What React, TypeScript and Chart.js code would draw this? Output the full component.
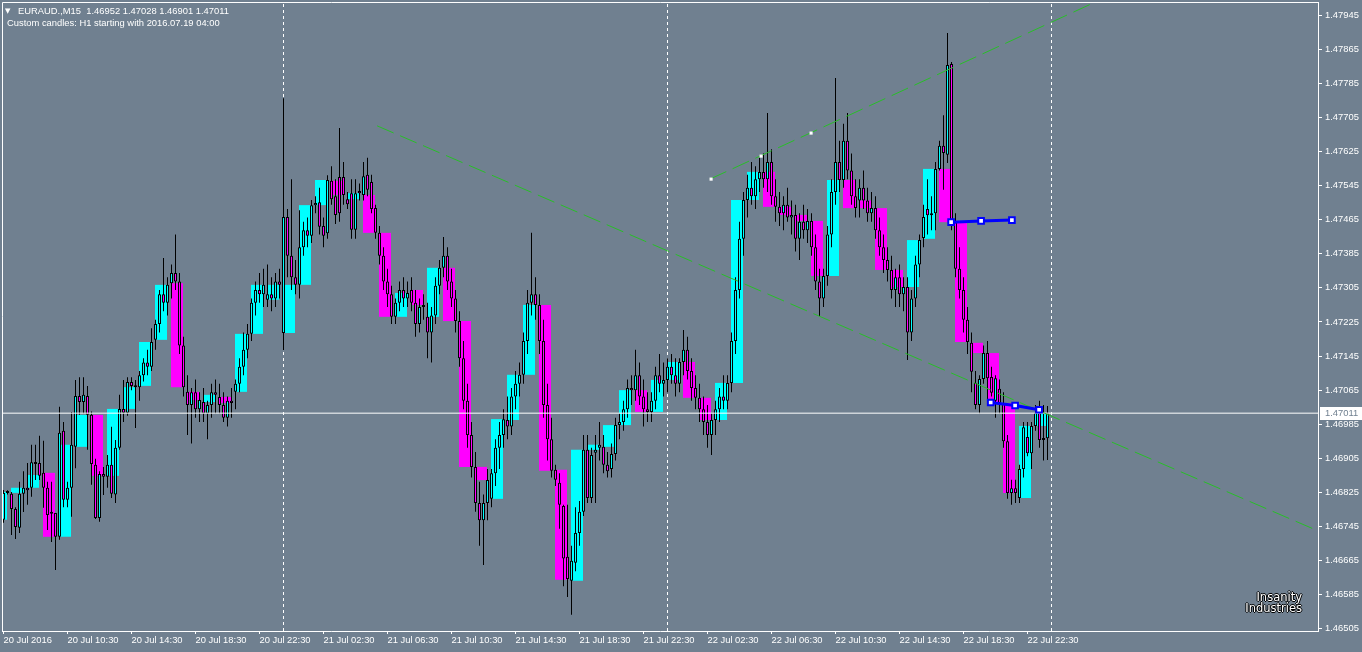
import React, { useEffect, useRef } from "react";
import { Chart, registerables } from "chart.js";

Chart.register(...registerables);

const BG = "#708090";
const BULL = "#00FFFF";
const BEAR = "#FF00FF";
const GREEN = "rgb(40,190,40)";
const BLUE = "#0000FF";
const FONT = "'Liberation Sans', Arial, sans-serif";

const HEADER_SYMBOL = "EURAUD.,M15  1.46952 1.47028 1.46901 1.47011";
const HEADER_INFO = "Custom candles: H1 starting with 2016.07.19 04:00";
const LOGO_LINES = ["Insanity", "Industries"];

// bar index 0 = 20 Jul 06:30 (M15)
const X_TICK_BARS = [0, 16, 32, 48, 64, 80, 96, 112, 128, 144, 160, 176, 192, 208, 224, 240, 256];
const X_TICK_LABELS = [
  "20 Jul 2016", "20 Jul 10:30", "20 Jul 14:30", "20 Jul 18:30", "20 Jul 22:30",
  "21 Jul 02:30", "21 Jul 06:30", "21 Jul 10:30", "21 Jul 14:30", "21 Jul 18:30", "21 Jul 22:30",
  "22 Jul 02:30", "22 Jul 06:30", "22 Jul 10:30", "22 Jul 14:30", "22 Jul 18:30", "22 Jul 22:30",
];
const Y_TICKS = [
  1.46505, 1.46585, 1.46665, 1.46745, 1.46825, 1.46905, 1.46985, 1.47065, 1.47145, 1.47225,
  1.47305, 1.47385, 1.47465, 1.47545, 1.47625, 1.47705, 1.47785, 1.47865, 1.47945,
];
const Y_MIN = 1.465;
const Y_MAX = 1.479755;
const X_MIN = -0.375;
const X_MAX = 328.625;
const CURRENT_PRICE = 1.47011;
const DAY_SEPARATOR_BARS = [70, 166, 262];

// M15 candles: [open, high, low, close]
const M15_BARS: number[][] = [
  [1.46761, 1.46831, 1.46754, 1.46824], [1.46824, 1.46830, 1.46820, 1.46826],
  [1.46822, 1.46826, 1.46725, 1.46786], [1.46786, 1.46790, 1.46716, 1.46744],
  [1.46742, 1.46850, 1.46730, 1.46822], [1.46822, 1.46875, 1.46779, 1.46836],
  [1.46836, 1.46894, 1.46796, 1.46830], [1.46836, 1.46937, 1.46815, 1.46896],
  [1.46896, 1.46937, 1.46854, 1.46892], [1.46894, 1.46958, 1.46854, 1.46864],
  [1.46871, 1.46946, 1.46789, 1.46836], [1.46836, 1.46850, 1.46737, 1.46772],
  [1.46777, 1.46850, 1.46709, 1.46775], [1.46777, 1.46777, 1.46643, 1.46721],
  [1.46721, 1.47026, 1.46714, 1.46965], [1.46970, 1.46990, 1.46790, 1.46808],
  [1.46808, 1.46850, 1.46790, 1.46836], [1.46836, 1.47014, 1.46768, 1.46937],
  [1.46932, 1.47089, 1.46882, 1.47051], [1.47051, 1.47095, 1.47007, 1.47037],
  [1.47037, 1.47095, 1.47010, 1.47054], [1.47051, 1.47075, 1.46925, 1.47007],
  [1.47007, 1.47015, 1.46843, 1.46892], [1.46890, 1.46904, 1.46763, 1.46765],
  [1.46765, 1.46875, 1.46756, 1.46868], [1.46868, 1.46885, 1.46819, 1.46862],
  [1.46862, 1.46913, 1.46836, 1.46890], [1.46890, 1.46979, 1.46812, 1.46822],
  [1.46820, 1.46948, 1.46800, 1.46930], [1.46930, 1.47054, 1.46925, 1.47021],
  [1.47021, 1.47089, 1.46990, 1.47012], [1.47012, 1.47095, 1.47005, 1.47084],
  [1.47084, 1.47095, 1.47065, 1.47075], [1.47075, 1.47089, 1.46976, 1.47072],
  [1.47072, 1.47110, 1.47040, 1.47100], [1.47100, 1.47140, 1.47085, 1.47130],
  [1.47130, 1.47160, 1.47100, 1.47120], [1.47120, 1.47210, 1.47110, 1.47178],
  [1.47183, 1.47230, 1.47160, 1.47220], [1.47220, 1.47300, 1.47200, 1.47290],
  [1.47290, 1.47375, 1.47250, 1.47270], [1.47270, 1.47330, 1.47240, 1.47312],
  [1.47316, 1.47360, 1.47280, 1.47340], [1.47340, 1.47430, 1.47300, 1.47320],
  [1.47320, 1.47340, 1.47150, 1.47170], [1.47170, 1.47190, 1.47050, 1.47072],
  [1.47061, 1.47100, 1.46960, 1.47030], [1.47030, 1.47070, 1.46940, 1.47060],
  [1.47060, 1.47090, 1.47000, 1.47020], [1.47020, 1.47060, 1.46990, 1.47042],
  [1.47037, 1.47070, 1.46990, 1.47010], [1.47010, 1.47040, 1.46950, 1.47030],
  [1.47030, 1.47080, 1.47000, 1.47060], [1.47060, 1.47090, 1.47010, 1.47054],
  [1.47049, 1.47080, 1.47010, 1.47030], [1.47030, 1.47060, 1.46990, 1.47000],
  [1.47000, 1.47050, 1.46980, 1.47040], [1.47040, 1.47070, 1.47000, 1.47035],
  [1.47061, 1.47090, 1.47020, 1.47080], [1.47080, 1.47140, 1.47060, 1.47120],
  [1.47120, 1.47200, 1.47100, 1.47160], [1.47160, 1.47220, 1.47140, 1.47197],
  [1.47197, 1.47280, 1.47180, 1.47270], [1.47270, 1.47320, 1.47240, 1.47300],
  [1.47300, 1.47340, 1.47270, 1.47290], [1.47290, 1.47350, 1.47260, 1.47312],
  [1.47277, 1.47360, 1.47260, 1.47290], [1.47290, 1.47330, 1.47250, 1.47280],
  [1.47280, 1.47340, 1.47260, 1.47320], [1.47320, 1.47350, 1.47280, 1.47312],
  [1.47199, 1.47750, 1.47159, 1.47471], [1.47471, 1.47490, 1.47330, 1.47380],
  [1.47380, 1.47560, 1.47300, 1.47330], [1.47330, 1.47370, 1.47290, 1.47312],
  [1.47312, 1.47487, 1.47280, 1.47400], [1.47400, 1.47460, 1.47380, 1.47440],
  [1.47440, 1.47470, 1.47400, 1.47427], [1.47427, 1.47511, 1.47410, 1.47499],
  [1.47499, 1.47520, 1.47480, 1.47504], [1.47506, 1.47540, 1.47430, 1.47448],
  [1.47450, 1.47470, 1.47400, 1.47427], [1.47433, 1.47569, 1.47420, 1.47558],
  [1.47556, 1.47590, 1.47500, 1.47513], [1.47520, 1.47560, 1.47455, 1.47476],
  [1.47565, 1.47680, 1.47460, 1.47480], [1.47565, 1.47600, 1.47500, 1.47523],
  [1.47513, 1.47530, 1.47490, 1.47501], [1.47527, 1.47560, 1.47420, 1.47441],
  [1.47441, 1.47560, 1.47420, 1.47527], [1.47532, 1.47550, 1.47510, 1.47527],
  [1.47523, 1.47600, 1.47510, 1.47567], [1.47570, 1.47610, 1.47520, 1.47535],
  [1.47553, 1.47570, 1.47480, 1.47490], [1.47492, 1.47500, 1.47420, 1.47434],
  [1.47434, 1.47450, 1.47360, 1.47380], [1.47380, 1.47400, 1.47300, 1.47320],
  [1.47320, 1.47350, 1.47260, 1.47290], [1.47290, 1.47310, 1.47220, 1.47237],
  [1.47237, 1.47280, 1.47220, 1.47270], [1.47270, 1.47320, 1.47250, 1.47300],
  [1.47300, 1.47330, 1.47260, 1.47280], [1.47280, 1.47320, 1.47260, 1.47293],
  [1.47300, 1.47330, 1.47250, 1.47270], [1.47270, 1.47300, 1.47190, 1.47220],
  [1.47220, 1.47280, 1.47200, 1.47260], [1.47260, 1.47290, 1.47230, 1.47265],
  [1.47237, 1.47270, 1.47140, 1.47200], [1.47200, 1.47260, 1.47130, 1.47240],
  [1.47240, 1.47330, 1.47220, 1.47310], [1.47310, 1.47370, 1.47290, 1.47352],
  [1.47352, 1.47424, 1.47330, 1.47380], [1.47380, 1.47400, 1.47300, 1.47320],
  [1.47320, 1.47350, 1.47260, 1.47280], [1.47280, 1.47300, 1.47200, 1.47227],
  [1.47227, 1.47250, 1.47120, 1.47140], [1.47140, 1.47180, 1.47020, 1.47040],
  [1.47040, 1.47080, 1.46930, 1.46960], [1.46960, 1.46990, 1.46860, 1.46885],
  [1.46885, 1.46920, 1.46780, 1.46800], [1.46800, 1.46850, 1.46700, 1.46760],
  [1.46760, 1.46820, 1.46655, 1.46800], [1.46800, 1.46880, 1.46760, 1.46854],
  [1.46810, 1.46880, 1.46790, 1.46870], [1.46870, 1.46950, 1.46840, 1.46930],
  [1.46930, 1.46990, 1.46880, 1.46960], [1.46960, 1.47020, 1.46930, 1.46997],
  [1.46995, 1.47050, 1.46950, 1.46980], [1.46980, 1.47070, 1.46960, 1.47050],
  [1.47050, 1.47110, 1.47020, 1.47080], [1.47080, 1.47130, 1.47050, 1.47101],
  [1.47101, 1.47200, 1.47080, 1.47180], [1.47180, 1.47300, 1.47150, 1.47270],
  [1.47270, 1.47434, 1.47240, 1.47290], [1.47290, 1.47330, 1.47230, 1.47265],
  [1.47265, 1.47290, 1.47150, 1.47180], [1.47180, 1.47230, 1.47000, 1.47030],
  [1.47030, 1.47080, 1.46900, 1.46950], [1.46950, 1.47000, 1.46860, 1.46876],
  [1.46878, 1.46890, 1.46840, 1.46855], [1.46848, 1.46870, 1.46740, 1.46796],
  [1.46793, 1.46796, 1.46605, 1.46670], [1.46674, 1.46796, 1.46580, 1.46622],
  [1.46618, 1.46700, 1.46538, 1.46665], [1.46660, 1.46790, 1.46640, 1.46730],
  [1.46730, 1.46805, 1.46700, 1.46780], [1.46780, 1.46960, 1.46770, 1.46925],
  [1.46925, 1.46960, 1.46800, 1.46812], [1.46812, 1.46930, 1.46800, 1.46913],
  [1.46918, 1.46960, 1.46800, 1.46925], [1.46930, 1.46990, 1.46900, 1.46937],
  [1.46932, 1.46960, 1.46870, 1.46890], [1.46890, 1.46920, 1.46860, 1.46875],
  [1.46880, 1.46940, 1.46860, 1.46915], [1.46915, 1.47000, 1.46900, 1.46983],
  [1.46983, 1.47010, 1.46950, 1.46990], [1.46990, 1.47040, 1.46970, 1.47020],
  [1.47020, 1.47090, 1.47000, 1.47070], [1.47070, 1.47100, 1.47030, 1.47065],
  [1.47065, 1.47160, 1.47040, 1.47100], [1.47100, 1.47130, 1.47030, 1.47050],
  [1.47050, 1.47090, 1.46980, 1.47020], [1.47020, 1.47060, 1.46990, 1.47014],
  [1.47014, 1.47060, 1.46990, 1.47040], [1.47040, 1.47120, 1.47020, 1.47100],
  [1.47100, 1.47150, 1.47060, 1.47080], [1.47080, 1.47130, 1.47050, 1.47089],
  [1.47089, 1.47140, 1.47060, 1.47120], [1.47120, 1.47150, 1.47080, 1.47100],
  [1.47100, 1.47140, 1.47050, 1.47080], [1.47080, 1.47140, 1.47060, 1.47131],
  [1.47131, 1.47206, 1.47100, 1.47160], [1.47160, 1.47190, 1.47090, 1.47110],
  [1.47110, 1.47140, 1.47040, 1.47070], [1.47070, 1.47100, 1.47020, 1.47047],
  [1.47047, 1.47080, 1.46990, 1.47020], [1.47020, 1.47050, 1.46960, 1.46990],
  [1.46990, 1.47030, 1.46930, 1.46960], [1.46960, 1.47010, 1.46913, 1.46995],
  [1.46995, 1.47040, 1.46960, 1.47020], [1.47020, 1.47070, 1.46990, 1.47050],
  [1.47050, 1.47100, 1.47020, 1.47040], [1.47040, 1.47100, 1.47020, 1.47082],
  [1.47082, 1.47200, 1.47060, 1.47180], [1.47180, 1.47330, 1.47150, 1.47300],
  [1.47300, 1.47460, 1.47280, 1.47420], [1.47420, 1.47530, 1.47380, 1.47511],
  [1.47511, 1.47570, 1.47470, 1.47540], [1.47540, 1.47600, 1.47500, 1.47520],
  [1.47520, 1.47590, 1.47490, 1.47560], [1.47560, 1.47610, 1.47530, 1.47577],
  [1.47577, 1.47620, 1.47540, 1.47560], [1.47560, 1.47715, 1.47530, 1.47600],
  [1.47600, 1.47630, 1.47500, 1.47520], [1.47520, 1.47560, 1.47460, 1.47495],
  [1.47495, 1.47530, 1.47450, 1.47480], [1.47480, 1.47520, 1.47440, 1.47500],
  [1.47500, 1.47540, 1.47460, 1.47470], [1.47470, 1.47510, 1.47430, 1.47476],
  [1.47476, 1.47500, 1.47390, 1.47420], [1.47420, 1.47480, 1.47370, 1.47460],
  [1.47460, 1.47500, 1.47420, 1.47440], [1.47440, 1.47490, 1.47410, 1.47462],
  [1.47462, 1.47480, 1.47380, 1.47400], [1.47400, 1.47430, 1.47300, 1.47320],
  [1.47320, 1.47350, 1.47239, 1.47280], [1.47280, 1.47350, 1.47260, 1.47333],
  [1.47333, 1.47450, 1.47310, 1.47430], [1.47430, 1.47560, 1.47400, 1.47530],
  [1.47530, 1.47797, 1.47500, 1.47600], [1.47600, 1.47650, 1.47530, 1.47558],
  [1.47558, 1.47690, 1.47540, 1.47650], [1.47650, 1.47715, 1.47560, 1.47580],
  [1.47580, 1.47620, 1.47500, 1.47520], [1.47520, 1.47560, 1.47470, 1.47492],
  [1.47510, 1.47560, 1.47470, 1.47540], [1.47540, 1.47580, 1.47490, 1.47510],
  [1.47510, 1.47540, 1.47460, 1.47480], [1.47480, 1.47530, 1.47460, 1.47492],
  [1.47492, 1.47520, 1.47420, 1.47440], [1.47440, 1.47470, 1.47380, 1.47400],
  [1.47400, 1.47430, 1.47340, 1.47370], [1.47370, 1.47400, 1.47320, 1.47347],
  [1.47347, 1.47380, 1.47280, 1.47300], [1.47300, 1.47350, 1.47260, 1.47330],
  [1.47330, 1.47360, 1.47260, 1.47290], [1.47290, 1.47330, 1.47250, 1.47307],
  [1.47307, 1.47330, 1.47136, 1.47200], [1.47200, 1.47300, 1.47180, 1.47280],
  [1.47280, 1.47380, 1.47260, 1.47360], [1.47360, 1.47430, 1.47330, 1.47417],
  [1.47422, 1.47500, 1.47400, 1.47471], [1.47490, 1.47560, 1.47430, 1.47475],
  [1.47480, 1.47520, 1.47440, 1.47475], [1.47480, 1.47600, 1.47440, 1.47584],
  [1.47584, 1.47650, 1.47580, 1.47638], [1.47638, 1.47710, 1.47535, 1.47621],
  [1.47617, 1.47903, 1.47598, 1.47828], [1.47830, 1.47835, 1.47440, 1.47459],
  [1.47459, 1.47480, 1.47330, 1.47350], [1.47350, 1.47400, 1.47280, 1.47300],
  [1.47300, 1.47330, 1.47200, 1.47230], [1.47230, 1.47260, 1.47150, 1.47178],
  [1.47176, 1.47200, 1.47060, 1.47108], [1.47082, 1.47110, 1.47020, 1.47030],
  [1.47030, 1.47100, 1.47010, 1.47091], [1.47091, 1.47170, 1.47080, 1.47152],
  [1.47152, 1.47180, 1.47040, 1.47093], [1.47096, 1.47120, 1.47050, 1.47059],
  [1.47040, 1.47100, 1.47000, 1.47093], [1.47068, 1.47090, 1.47010, 1.47035],
  [1.47035, 1.47060, 1.46930, 1.46945], [1.46945, 1.46960, 1.46810, 1.46824],
  [1.46824, 1.46855, 1.46796, 1.46835], [1.46835, 1.46855, 1.46800, 1.46824],
  [1.46812, 1.46890, 1.46800, 1.46880], [1.46880, 1.46990, 1.46860, 1.46978],
  [1.46955, 1.46990, 1.46910, 1.46917], [1.46917, 1.46990, 1.46880, 1.46981],
  [1.46981, 1.47030, 1.46970, 1.47012], [1.47012, 1.47040, 1.46930, 1.46948],
  [1.46948, 1.47030, 1.46900, 1.46952], [1.46952, 1.47028, 1.46901, 1.47011],
];

// Custom H1 candles (hour k starts at M15 bar 4k-2): open / close
const H1_OPEN = [
  1.46761, 1.46824, 1.46836, 1.46871, 1.46721, 1.46932, 1.47007, 1.46864, 1.47021, 1.47075,
  1.47183, 1.47316, 1.47061, 1.47037, 1.47049, 1.47061, 1.47197, 1.47277, 1.47199, 1.47312,
  1.47499, 1.47556, 1.47513, 1.47523, 1.47434, 1.47237, 1.47300, 1.47237, 1.47352, 1.47227,
  1.46885, 1.46810, 1.46995, 1.47101, 1.47265, 1.46878, 1.46618, 1.46925, 1.46932, 1.46983,
  1.47065, 1.47014, 1.47089, 1.47131, 1.47047, 1.46995, 1.47082, 1.47511, 1.47577, 1.47495,
  1.47476, 1.47462, 1.47333, 1.47558, 1.47510, 1.47492, 1.47347, 1.47307, 1.47420, 1.47584,
  1.47459, 1.47176, 1.47152, 1.47035, 1.46812, 1.46981,
];
const H1_CLOSE = [
  1.46826, 1.46836, 1.46866, 1.46721, 1.46937, 1.47007, 1.46864, 1.47021, 1.47072, 1.47178,
  1.47312, 1.47072, 1.47042, 1.47054, 1.47035, 1.47197, 1.47312, 1.47312, 1.47312, 1.47499,
  1.47558, 1.47523, 1.47527, 1.47434, 1.47237, 1.47293, 1.47265, 1.47352, 1.47227, 1.46885,
  1.46854, 1.46997, 1.47101, 1.47265, 1.46876, 1.46620, 1.46925, 1.46937, 1.46983, 1.47065,
  1.47014, 1.47089, 1.47131, 1.47047, 1.46995, 1.47082, 1.47511, 1.47577, 1.47495, 1.47476,
  1.47462, 1.47333, 1.47558, 1.47492, 1.47492, 1.47347, 1.47307, 1.47417, 1.47584, 1.47459,
  1.47178, 1.47152, 1.47035, 1.46824, 1.46981, 1.47011,
];

// trend lines / drawn objects (bar index, price)
const TREND_DOWN = [{ x: 93.4, y: 1.47685 }, { x: 328.6, y: 1.46735 }];
const TREND_UP = [{ x: 176.6, y: 1.4756 }, { x: 300, y: 1.48092 }];
const TREND_UP_MARKS = [{ x: 176.9, y: 1.4756 }, { x: 189.4, y: 1.47614 }, { x: 201.9, y: 1.47668 }];
const BLUE_UPPER = [{ x: 236.9, y: 1.47459 }, { x: 244.4, y: 1.47462 }, { x: 252.1, y: 1.47464 }];
const BLUE_LOWER = [{ x: 246.8, y: 1.47036 }, { x: 252.9, y: 1.47029 }, { x: 258.9, y: 1.47019 }];

const chromePlugin = {
  id: "chrome",
  beforeDraw(chart: any) {
    const { ctx, width, height } = chart;
    ctx.save();
    ctx.fillStyle = BG;
    ctx.fillRect(0, 0, width, height);
    ctx.restore();
  },
  afterDraw(chart: any) {
    const { ctx, chartArea: a } = chart;
    ctx.save();
    ctx.strokeStyle = "#ffffff";
    ctx.lineWidth = 1;
    ctx.beginPath();
    ctx.moveTo(a.left + 0.5, a.bottom);
    ctx.lineTo(a.left + 0.5, a.top + 0.5);
    ctx.lineTo(a.right, a.top + 0.5);
    ctx.stroke();
    const y = Math.round(chart.scales.y.getPixelForValue(CURRENT_PRICE));
    ctx.fillStyle = "#ffffff";
    ctx.fillRect(a.right + 2, y - 6, chart.width - a.right - 2, 13);
    ctx.fillStyle = BG;
    ctx.font = `9.4px ${FONT}`;
    ctx.textBaseline = "middle";
    ctx.textAlign = "left";
    ctx.fillText(CURRENT_PRICE.toFixed(5), a.right + 7, y + 0.5);
    ctx.restore();
  },
};

export default function App() {
  const ref = useRef<HTMLCanvasElement>(null);

  useEffect(() => {
    document.body.style.margin = "0";
    document.body.style.background = BG;
    const canvas = ref.current;
    if (!canvas) return;

    Chart.defaults.font.family = FONT;
    Chart.defaults.font.size = 9.4;

    const datasets: any[] = [];
    DAY_SEPARATOR_BARS.forEach((b) =>
      datasets.push({
        type: "line",
        order: 20,
        data: [{ x: b, y: Y_MIN }, { x: b, y: Y_MAX }],
        borderColor: "#ffffff",
        borderWidth: 1,
        borderDash: [3, 3],
        pointRadius: 0,
      })
    );
    datasets.push({
      type: "bar",
      order: 15,
      stack: "c",
      data: H1_OPEN.map((o, k) => ({ x: 4 * k - 2 + 1.375, y: [o, H1_CLOSE[k]] })),
      backgroundColor: H1_OPEN.map((o, k) => (H1_CLOSE[k] >= o ? BULL : BEAR)),
      barThickness: 12,
      borderWidth: 0,
      inflateAmount: 0,
      minBarLength: 1,
    });
    datasets.push({
      type: "bar",
      order: 12,
      stack: "c",
      data: M15_BARS.map((b, i) => ({ x: i, y: [b[2], b[1]] })),
      backgroundColor: "#000000",
      barThickness: 1,
      borderWidth: 0,
      inflateAmount: 0,
      minBarLength: 1,
    });
    datasets.push({
      type: "bar",
      order: 11,
      stack: "c",
      data: M15_BARS.map((b, i) => ({ x: i, y: [b[0], b[3]] })),
      backgroundColor: M15_BARS.map((b) => (b[3] >= b[0] ? BULL : BEAR)),
      borderColor: "#000000",
      borderWidth: 1,
      borderSkipped: false,
      barThickness: 3,
      inflateAmount: 0,
      minBarLength: 2,
    });
    datasets.push({
      type: "line",
      order: 6,
      data: [{ x: X_MIN, y: CURRENT_PRICE }, { x: X_MAX, y: CURRENT_PRICE }],
      borderColor: "#ffffff",
      borderWidth: 1,
      pointRadius: 0,
    });
    datasets.push({
      type: "line",
      order: 5,
      data: TREND_DOWN,
      borderColor: GREEN,
      borderWidth: 1,
      borderDash: [18, 7],
      pointRadius: 0,
    });
    datasets.push({
      type: "line",
      order: 5,
      data: TREND_UP,
      borderColor: GREEN,
      borderWidth: 1,
      borderDash: [18, 7],
      pointRadius: 0,
    });
    datasets.push({
      type: "line",
      order: 4,
      data: TREND_UP_MARKS,
      showLine: false,
      pointStyle: "rect",
      pointRadius: 2.2,
      pointBackgroundColor: "#ffffff",
      pointBorderWidth: 0,
    });
    [BLUE_UPPER, BLUE_LOWER].forEach((pts) =>
      datasets.push({
        type: "line",
        order: 1,
        data: pts,
        borderColor: BLUE,
        borderWidth: 3,
        pointStyle: "rect",
        pointRadius: 4,
        pointBackgroundColor: "#ffffff",
        pointBorderColor: BLUE,
        pointBorderWidth: 2,
      })
    );

    const chart = new Chart(canvas, {
      type: "bar",
      data: { datasets },
      options: {
        animation: false,
        responsive: false,
        events: [],
        layout: { autoPadding: false, padding: { left: 2, top: 2, right: 0, bottom: 0 } },
        plugins: { legend: { display: false }, tooltip: { enabled: false } },
        scales: {
          x: {
            type: "linear",
            position: "bottom",
            min: X_MIN,
            max: X_MAX,
            offset: false,
            grid: { drawOnChartArea: false, drawTicks: true, tickLength: 3, color: "#ffffff", offset: false },
            border: { display: true, color: "#ffffff", width: 1 },
            ticks: {
              color: "#ffffff",
              align: "start",
              padding: 1,
              maxRotation: 0,
              autoSkip: false,
              font: { family: FONT, size: 9.4 },
              callback: (v: any) => {
                const idx = X_TICK_BARS.indexOf(Number(v));
                return idx >= 0 ? X_TICK_LABELS[idx] : "";
              },
            },
            afterBuildTicks: (s: any) => {
              s.ticks = X_TICK_BARS.map((v) => ({ value: v }));
            },
            afterFit: (s: any) => {
              s.height = 21;
              s.paddingLeft = 0;
              s.paddingRight = 0;
            },
          } as any,
          y: {
            type: "linear",
            position: "right",
            min: Y_MIN,
            max: Y_MAX,
            stacked: false,
            grid: { drawOnChartArea: false, drawTicks: true, tickLength: 4, color: "#ffffff" },
            border: { display: true, color: "#ffffff", width: 1 },
            ticks: {
              color: "#ffffff",
              padding: 3,
              autoSkip: false,
              font: { family: FONT, size: 9.4 },
              callback: (v: any) => Number(v).toFixed(5),
            },
            afterBuildTicks: (s: any) => {
              s.ticks = Y_TICKS.map((v) => ({ value: v }));
            },
            afterFit: (s: any) => {
              s.width = 44;
              s.paddingTop = 0;
              s.paddingBottom = 0;
            },
          } as any,
        },
      },
      plugins: [chromePlugin],
    });
    return () => chart.destroy();
  }, []);

  const textStyle: React.CSSProperties = {
    position: "absolute",
    color: "#ffffff",
    font: `9.4px ${FONT}`,
    lineHeight: "12px",
    whiteSpace: "pre",
  };

  return (
    <div style={{ position: "relative", width: 1362, height: 652, overflow: "hidden", background: BG }}>
      <canvas ref={ref} width={1362} height={652} style={{ display: "block" }} />
      <div style={{ ...textStyle, left: 5, top: 5, font: "7px 'DejaVu Sans'", lineHeight: "12px" }}>▼</div>
      <div style={{ ...textStyle, left: 18, top: 5 }}>{HEADER_SYMBOL}</div>
      <div style={{ ...textStyle, left: 7, top: 17 }}>{HEADER_INFO}</div>
      <div
        style={{
          position: "absolute",
          right: 60,
          top: 592,
          textAlign: "right",
          color: "#ffffff",
          font: "11.5px 'DejaVu Sans'",
          lineHeight: "11px",
          textShadow: "1px 0 #000, -1px 0 #000, 0 1px #000, 0 -1px #000",
        }}
      >
        {LOGO_LINES.map((t) => (
          <div key={t}>{t}</div>
        ))}
      </div>
    </div>
  );
}
